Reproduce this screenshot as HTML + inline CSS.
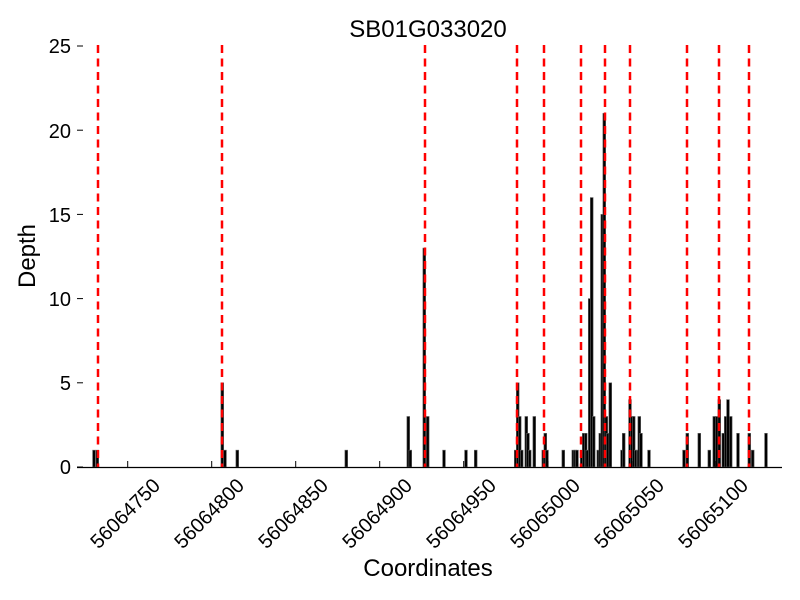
<!DOCTYPE html>
<html><head><meta charset="utf-8"><style>body{margin:0;background:#fff}svg{display:block}</style></head>
<body>
<svg width="800" height="600" xmlns="http://www.w3.org/2000/svg" font-family="Liberation Sans, sans-serif">
<rect width="800" height="600" fill="#fff"/>
<g id="bars" fill="#000" stroke="#666" stroke-width="0.6"></g>
<g id="red" stroke="#f00" stroke-width="2.5" stroke-dasharray="8,5.5"></g>
<line x1="77" y1="467.5" x2="782" y2="467.5" stroke="#000" stroke-width="1.2"/>
<g stroke="#000" stroke-width="1" id="ticks"></g>
<g font-size="20" text-anchor="end" fill="#000">
<text x="71" y="474">0</text><text x="71" y="390">5</text><text x="71" y="306">10</text><text x="71" y="222">15</text><text x="71" y="138">20</text><text x="71" y="53">25</text>
</g>
<g id="xl" font-size="20" text-anchor="middle" fill="#000"></g>
<text x="428" y="37" font-size="24" text-anchor="middle">SB01G033020</text>
<text x="428" y="576" font-size="24" text-anchor="middle">Coordinates</text>
<text transform="translate(35,256) rotate(-90)" font-size="24" text-anchor="middle">Depth</text>
<script>
var ns="http://www.w3.org/2000/svg";
function el(p,t,a){var e=document.createElementNS(ns,t);for(var k in a)e.setAttribute(k,a[k]);p.appendChild(e);return e;}
var B=[[94,1],[97.3,1],[222.3,5],[225,1],[237.3,1],[346.3,1],[408.3,3],[410.3,1],[424.3,13],[427.7,3],[444,1],[466,1],[475.7,1],
[515.7,1],[517.7,5],[519.7,3],[521.7,1],[526.3,3],[528,2],[529.7,1],[534.3,3],[543.3,1],[545.3,2],[547,1],[563.3,1],[573.3,1],[575.3,1],[577,1],[581.7,1],[583.7,2],[585.7,2],[587.3,1],[589.7,10],[591.7,16],[593.7,3],[598.3,1],[600.3,2],[602.3,15],[604.3,21],[606.3,3],[608,2],[610.3,5],[622,1],[623.7,2],[630,4],[632,3],[633.7,3],[635.7,1],[637.7,1],[639.3,3],[641,2],[649,1],
[684,1],[687.3,2],[699.3,2],[709.3,1],[714.3,3],[716.7,3],[719.3,4],[723.3,2],[725.7,3],[728,4],[730.7,3],[738,2],[749.3,2],[752.7,1],[766,2]];
var g=document.getElementById("bars");
B.forEach(function(b){var h=b[1]*16.84;el(g,"rect",{x:b[0]-1.4,y:467-h,width:2.8,height:h});});
var r=document.getElementById("red");
[98,222,425,517,544,581,605,630,687,719,749].forEach(function(x){el(r,"line",{x1:x,y1:45,x2:x,y2:467});});
var t=document.getElementById("ticks"),xl=document.getElementById("xl");
for(var i=0;i<8;i++){var x=127.7+84*i;el(t,"line",{x1:x,y1:467,x2:x,y2:461});
var tx=el(xl,"text",{x:0,y:0,transform:"translate("+(x-2)+",514) rotate(-45)","dominant-baseline":"central"});tx.textContent=String(56064750+50*i);}
for(var j=0;j<6;j++){var y=467-84.2*j;el(t,"line",{x1:77,y1:y,x2:83,y2:y});}
</script>
</svg>
</body></html>
